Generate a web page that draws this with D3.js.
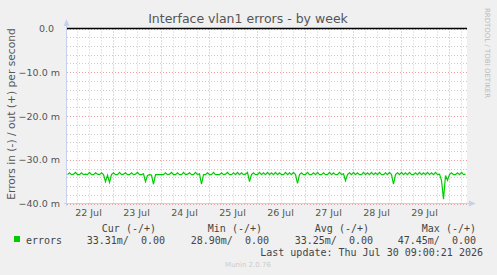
<!DOCTYPE html>
<html>
<head>
<meta charset="utf-8">
<script src="https://cdn.jsdelivr.net/npm/d3@7"></script>
<style>
  body { margin: 0; background: #f0f0f0; }
  svg { display: block; }
  text { font-family: 'DejaVu Sans', sans-serif; fill: #555; }
  .mono { font-family: 'DejaVu Sans Mono', monospace; font-size: 10px; white-space: pre; fill: #444; }
</style>
</head>
<body>
<script>
const w = 497
const h = 275

// hourly "in" error rate, milli-errors per second, starting 22 Jul 01:00
const errorsIn = [
  33.4,33.0,33.4,33.3,32.9,33.4,33.4,33.0,33.4,33.3,33.4,32.9,33.4,33.4,33.0,33.3,33.4,33.0,33.4,35.0,
  33.5,35.2,33.4,33.0,33.4,33.4,32.9,33.4,33.3,33.0,33.4,33.4,33.0,33.4,33.3,32.9,33.4,33.4,33.2,35.0,
  33.6,33.4,33.5,35.6,33.4,33.4,33.4,33.4,33.4,33.0,33.4,33.3,32.9,33.4,33.4,33.0,33.4,33.4,32.9,33.4,
  33.3,33.0,33.4,33.4,32.9,33.4,33.2,35.6,33.4,33.4,33.0,33.4,33.4,32.9,33.4,33.4,33.4,33.0,33.4,33.3,
  32.9,33.4,33.4,33.0,33.4,32.9,33.4,33.0,33.4,33.3,32.9,35.0,33.4,33.0,33.4,33.4,32.9,33.4,33.0,33.4,
  32.9,33.4,33.0,33.4,32.9,33.4,33.0,33.4,33.4,32.9,33.4,33.0,33.4,32.9,33.4,35.4,33.4,33.0,33.4,33.4,
  32.9,33.4,33.4,33.0,33.4,32.9,33.4,33.4,33.0,33.4,33.4,32.9,33.4,33.0,33.4,33.4,32.9,33.4,33.2,34.8,
  33.4,33.0,33.4,32.9,33.4,33.0,33.4,33.4,32.9,33.4,33.0,33.4,32.9,33.4,33.0,33.4,32.9,33.4,33.4,33.0,
  33.4,32.9,33.4,35.6,33.4,33.0,33.4,32.9,33.4,33.0,33.4,32.9,33.4,33.4,33.0,33.4,32.9,33.4,33.0,33.4,
  32.9,33.4,33.0,33.4,32.9,33.4,33.3,34.7,39.0,33.6,34.7,33.4,33.0,33.4,33.4,33.0,33.4,32.9,33.4,33.3
]
const yTicks = [0, -10, -20, -30, -40]
const dayLabels = ['22 Jul', '23 Jul', '24 Jul', '25 Jul', '26 Jul', '27 Jul', '28 Jul', '29 Jul']
const legendHeads = ['Cur (-/+)', 'Min (-/+)', 'Avg (-/+)', 'Max (-/+)']
const legendValues = ['33.31m/  0.00', '28.90m/  0.00', '33.25m/  0.00', '47.45m/  0.00']

const start = new Date(Date.UTC(2026, 6, 22, 1))
const end = new Date(Date.UTC(2026, 6, 30, 9))
const hour = 3600 * 1000

const svg = d3.select('body').append('svg')
  .attr('width', w)
  .attr('height', h)

const xScale = d3.scaleUtc().domain([start, end]).range([66.5, 466.5])
const yScale = d3.scaleLinear().domain([-40, 0]).range([203.5, 28.5])

// plot canvas
svg.append('rect')
  .attr('x', 67).attr('y', 28.5)
  .attr('width', 400).attr('height', 175)
  .attr('fill', '#fff')

// grid
const minorY = d3.range(-40, 1, 2).filter(v => v % 10 != 0)
svg.selectAll('.gy').data(minorY).enter().append('line')
  .attr('x1', 67).attr('x2', 467)
  .attr('y1', d => Math.round(yScale(d)) + 0.5).attr('y2', d => Math.round(yScale(d)) + 0.5)
  .attr('stroke', '#ccc').attr('stroke-dasharray', '1,2')
svg.selectAll('.gY').data(yTicks).enter().append('line')
  .attr('x1', 67).attr('x2', 467)
  .attr('y1', d => Math.round(yScale(d)) + 0.5).attr('y2', d => Math.round(yScale(d)) + 0.5)
  .attr('stroke', '#e8a0a0').attr('stroke-dasharray', '1,2')

const sixHours = d3.utcHour.every(6).range(start, end)
svg.selectAll('.gx').data(sixHours).enter().append('line')
  .attr('x1', d => Math.round(xScale(d)) + 0.5).attr('x2', d => Math.round(xScale(d)) + 0.5)
  .attr('y1', 28.5).attr('y2', 203)
  .attr('stroke', d => d.getUTCHours() == 0 ? '#e8a0a0' : '#ccc')
  .attr('stroke-dasharray', '1,2')

// axes lines with arrows
svg.append('line').attr('x1', 66.5).attr('x2', 66.5).attr('y1', 206).attr('y2', 24)
  .attr('stroke', '#c8d0f0')
svg.append('line').attr('x1', 64).attr('x2', 470).attr('y1', 203.5).attr('y2', 203.5)
  .attr('stroke', '#c8d0f0')
svg.append('path').attr('d', 'M63.5,26 L66.5,19 L69.5,26 Z').attr('fill', '#c8d0f0')
svg.append('path').attr('d', 'M469,200.5 L476,203.5 L469,206.5 Z').attr('fill', '#c8d0f0')

// zero line
svg.append('line').attr('x1', 67).attr('x2', 467)
  .attr('y1', yScale(0)).attr('y2', yScale(0))
  .attr('stroke', '#000').attr('stroke-width', 1.5)

// series
const line = d3.line()
  .x((d, i) => xScale(new Date(start.getTime() + i * hour + hour / 2)))
  .y(d => yScale(-d))
svg.append('path')
  .datum(errorsIn)
  .attr('d', line)
  .attr('fill', 'none')
  .attr('stroke', '#00cc00')
  .attr('stroke-width', 1.2)

// y tick labels
svg.selectAll('.yl').data(yTicks).enter().append('text')
  .attr('x', d => d == 0 ? 54 : 60)
  .attr('y', d => yScale(d) + 3.5)
  .attr('text-anchor', 'end')
  .style('font-size', '9.5px')
  .text(d => d == 0 ? '0.0' : d3.format('.1f')(d) + ' m')

// x day labels at noon
svg.selectAll('.xl').data(dayLabels).enter().append('text')
  .attr('x', (d, i) => xScale(new Date(Date.UTC(2026, 6, 22 + i, 12))))
  .attr('y', 216)
  .attr('text-anchor', 'middle')
  .style('font-size', '9.5px')
  .text(d => d)

svg.append('text')
  .attr('x', 248).attr('y', 22.5)
  .attr('text-anchor', 'middle')
  .style('font-size', '12.5px')
  .text('Interface vlan1 errors - by week')

svg.append('text')
  .attr('transform', 'translate(15, 114) rotate(-90)')
  .attr('text-anchor', 'middle')
  .style('font-size', '10.7px')
  .text('Errors in (-) / out (+) per second')

svg.append('text')
  .attr('transform', 'translate(485, 53) rotate(90)')
  .attr('text-anchor', 'middle')
  .style('font-size', '7px')
  .style('fill', '#bbb')
  .text('RRDTOOL / TOBI OETIKER')

// legend
const colEnds = [156, 262, 369, 476]
svg.selectAll('.lh').data(legendHeads).enter().append('text')
  .attr('class', 'mono')
  .attr('x', (d, i) => colEnds[i]).attr('y', 232)
  .attr('text-anchor', 'end')
  .text(d => d)
const valEnds = [165, 269, 373, 476]
svg.selectAll('.lv').data(legendValues).enter().append('text')
  .attr('class', 'mono')
  .attr('x', (d, i) => valEnds[i]).attr('y', 243.5)
  .attr('text-anchor', 'end')
  .text(d => d)
svg.append('rect').attr('x', 14).attr('y', 236).attr('width', 6).attr('height', 6).attr('fill', '#00cc00')
svg.append('text').attr('class', 'mono').attr('x', 26).attr('y', 243.5).text('errors')
svg.append('text').attr('class', 'mono')
  .attr('x', 483).attr('y', 255.5)
  .attr('text-anchor', 'end')
  .text('Last update: Thu Jul 30 09:00:21 2026')

svg.append('text')
  .attr('x', 248).attr('y', 267)
  .attr('text-anchor', 'middle')
  .style('font-size', '7px')
  .style('fill', '#ccc')
  .text('Munin 2.0.76')
</script>
</body>
</html>
